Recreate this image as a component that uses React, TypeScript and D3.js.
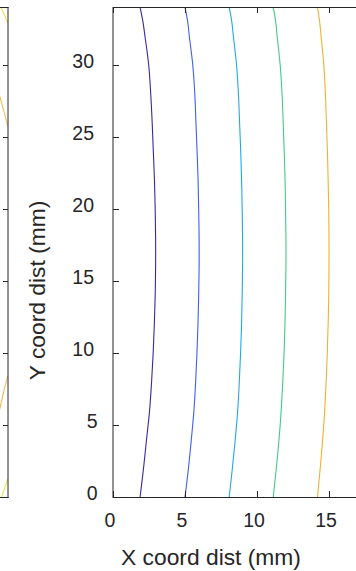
import React from "react";
import * as d3 from "d3";

// ---- data (mm) ----
const yLevels = [0, 2, 4, 6, 8, 10, 12, 14, 16, 18, 20, 22, 24, 26, 28, 30, 32, 33, 34];
const contour1 = [1.88, 2.12, 2.33, 2.54, 2.68, 2.79, 2.87, 2.93, 2.96, 2.96, 2.93, 2.88, 2.8, 2.72, 2.62, 2.48, 2.22, 2.08, 1.88];
const contour2 = [5.0, 5.24, 5.44, 5.62, 5.74, 5.83, 5.9, 5.95, 5.98, 5.98, 5.95, 5.91, 5.84, 5.76, 5.68, 5.54, 5.3, 5.19, 5.0];
const contour3 = [8.07, 8.29, 8.49, 8.66, 8.77, 8.86, 8.93, 8.97, 9.0, 9.0, 8.97, 8.93, 8.87, 8.79, 8.71, 8.58, 8.36, 8.25, 8.07];
const contour4 = [11.13, 11.34, 11.53, 11.68, 11.79, 11.88, 11.94, 11.98, 12.01, 12.01, 11.98, 11.95, 11.89, 11.82, 11.74, 11.61, 11.4, 11.3, 11.13];
const contour5 = [14.2, 14.39, 14.56, 14.7, 14.8, 14.88, 14.94, 14.98, 15.0, 15.0, 14.98, 14.94, 14.89, 14.82, 14.75, 14.64, 14.45, 14.35, 14.2];
const contourColors = ["#3b27a3", "#3f5ef2", "#22a9e4", "#45c98c", "#f0b230"];

// left (partially visible) panel fragments: [x, y]
const leftYellowTop: [number, number][] = [[19.4, 34.3], [19.72, 33.55], [19.98, 32.92]];
const leftOrangeUpper: [number, number][] = [[19.28, 28.55], [19.44, 27.78], [19.7, 26.85], [19.98, 25.75]];
const leftOrangeLower: [number, number][] = [[19.28, 5.3], [19.44, 6.16], [19.7, 7.3], [19.98, 8.4]];
const leftYellowBottom: [number, number][] = [[19.5, -0.2], [19.56, 0], [19.98, 1.25]];
const leftColors = { yellow: "#ede31c", orange: "#f0b240" };

const xTicks = [0, 5, 10, 15];
const yTicks = [0, 5, 10, 15, 20, 25, 30];
const xLabel = "X coord dist (mm)";
const yLabel = "Y coord dist (mm)";

const W = 356;
const H = 571;
const plotLeft = 113;
const plotTop = 7;
const plotBottom = 497;
const pxPerMm = 14.4;
const leftPanelRight = 8;
const axisColor = "#262626";
const font = "'Liberation Sans', Arial, Helvetica, sans-serif";

export default function App() {
  const x = d3.scaleLinear().domain([0, 20]).range([plotLeft, plotLeft + 20 * pxPerMm]);
  const y = d3.scaleLinear().domain([0, 34]).range([plotBottom, plotBottom - 34 * pxPerMm]);
  const xl = d3.scaleLinear().domain([0, 20]).range([leftPanelRight - 20 * pxPerMm, leftPanelRight]);

  const line = d3
    .line<[number, number]>()
    .x((d) => x(d[0]))
    .y((d) => y(d[1]))
    .curve(d3.curveCatmullRom.alpha(0.5));
  const lineL = d3
    .line<[number, number]>()
    .x((d) => xl(d[0]))
    .y((d) => y(d[1]))
    .curve(d3.curveCatmullRom.alpha(0.5));

  const contours = [contour1, contour2, contour3, contour4, contour5].map((c) =>
    c.map((v, i) => [v, yLevels[i]] as [number, number])
  );

  const tickLen = 6;

  return (
    <svg
      width={W}
      height={H}
      style={{ position: "absolute", left: 0, top: 0, background: "#fff" }}
      fontFamily={font}
    >
      <defs>
        <clipPath id="mainClip">
          <rect x={plotLeft} y={plotTop} width={W - plotLeft} height={plotBottom - plotTop} />
        </clipPath>
        <clipPath id="leftClip">
          <rect x={0} y={plotTop} width={leftPanelRight} height={plotBottom - plotTop} />
        </clipPath>
      </defs>
      <rect x={0} y={0} width={W} height={H} fill="#fff" />

      {/* left panel fragment */}
      <g clipPath="url(#leftClip)" fill="none" strokeWidth={1}>
        <path d={lineL(leftYellowTop) || ""} stroke={leftColors.yellow} />
        <path d={lineL(leftOrangeUpper) || ""} stroke={leftColors.orange} />
        <path d={lineL(leftOrangeLower) || ""} stroke={leftColors.orange} />
        <path d={lineL(leftYellowBottom) || ""} stroke={leftColors.yellow} />
      </g>
      <g stroke={axisColor} strokeWidth={1} fill="none">
        <line x1={0} x2={leftPanelRight + 0.5} y1={plotTop + 0.5} y2={plotTop + 0.5} />
        <line x1={0} x2={leftPanelRight + 0.5} y1={plotBottom + 0.5} y2={plotBottom + 0.5} />
        <line x1={leftPanelRight} x2={leftPanelRight} y1={plotTop} y2={plotBottom + 1} />
        {yTicks.map((t) => (
          <line key={"lt" + t} x1={leftPanelRight - 5} x2={leftPanelRight} y1={y(t) + 0.5} y2={y(t) + 0.5} />
        ))}
      </g>

      {/* main contours */}
      <g clipPath="url(#mainClip)" fill="none" strokeWidth={1.1}>
        {contours.map((c, i) => (
          <path key={i} d={line(c) || ""} stroke={contourColors[i]} />
        ))}
      </g>

      {/* main axes */}
      <g stroke={axisColor} strokeWidth={1} fill="none">
        <line x1={plotLeft} x2={W} y1={plotTop + 0.5} y2={plotTop + 0.5} />
        <line x1={plotLeft} x2={W} y1={plotBottom + 0.5} y2={plotBottom + 0.5} />
        <line x1={plotLeft} x2={plotLeft} y1={plotTop} y2={plotBottom + 1} />
        {xTicks.map((t) => (
          <g key={"xt" + t}>
            <line x1={x(t) + 0.5} x2={x(t) + 0.5} y1={plotBottom} y2={plotBottom - tickLen} />
            <line x1={x(t) + 0.5} x2={x(t) + 0.5} y1={plotTop} y2={plotTop + tickLen} />
          </g>
        ))}
        {yTicks.map((t) => (
          <line key={"yt" + t} x1={plotLeft} x2={plotLeft + tickLen} y1={y(t) + 0.5} y2={y(t) + 0.5} />
        ))}
      </g>

      {/* tick labels */}
      <g fill={axisColor} fontSize={19.5}>
        {xTicks.map((t) => (
          <text key={"xl" + t} x={x(t) - 3} y={527} textAnchor="middle">
            {t}
          </text>
        ))}
        {yTicks.map((t) => (
          <text key={"yl" + t} x={t >= 10 ? 94 : 97.5} y={y(t) + 3} textAnchor="end">
            {t}
          </text>
        ))}
      </g>

      {/* axis labels */}
      <text x={211} y={565} textAnchor="middle" fontSize={22.8} fill={axisColor}>
        {xLabel}
      </text>
      <text
        transform={`translate(45, 290.5) rotate(-90)`}
        textAnchor="middle"
        fontSize={22.8}
        fill={axisColor}
      >
        {yLabel}
      </text>
    </svg>
  );
}
